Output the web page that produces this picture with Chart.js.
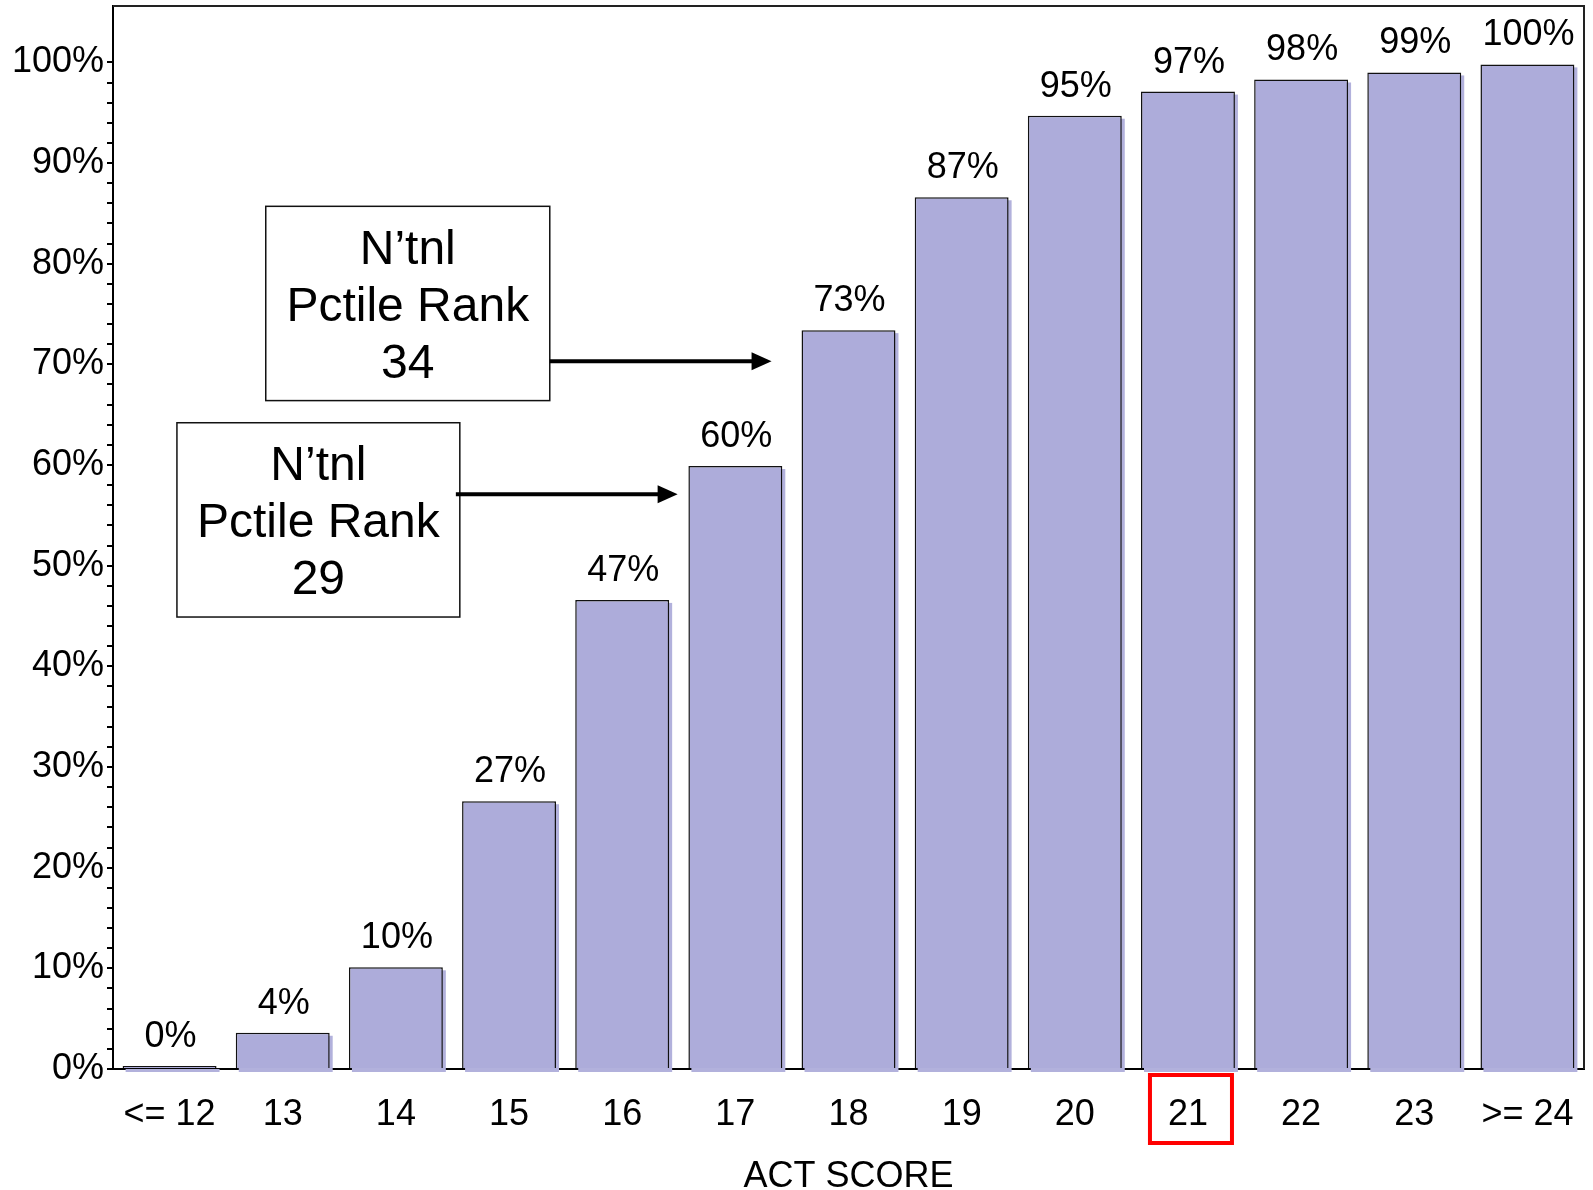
<!DOCTYPE html>
<html>
<head>
<meta charset="utf-8">
<title>ACT Score Percentile</title>
<script src="https://cdn.jsdelivr.net/npm/chart.js@4.4.1/dist/chart.umd.min.js"></script>
<style>
    html, body { margin: 0; padding: 0; background: #fff; }
    #wrap { width: 1593px; height: 1190px; position: relative; }
</style>
</head>
<body>
<div id="wrap"><canvas id="actChart"></canvas></div>
<script>
// Data
const scoreLabels = ['<= 12', '13', '14', '15', '16', '17', '18', '19', '20', '21', '22', '23', '>= 24'];
const cumulativePct = [0.3, 3.6, 10.1, 26.6, 46.6, 59.9, 73.4, 86.6, 94.7, 97.1, 98.3, 99.0, 99.8];
const yTickValues = [0, 10, 20, 30, 40, 50, 60, 70, 80, 90, 100];
const highlightIndex = 9; // score 21

// Callout boxes (category index / percent units)
const callouts = [
    { lines: ['N\u2019tnl', 'Pctile Rank', '34'], x0: 0.85, x1: 3.36, y0: 85.7, y1: 66.4, arrowFrom: 3.36, arrowTo: 5.32, arrowY: 70.3 },
    { lines: ['N\u2019tnl', 'Pctile Rank', '29'], x0: 0.065, x1: 2.565, y0: 64.2, y1: 44.9, arrowFrom: 2.53, arrowTo: 4.49, arrowY: 57.1 }
];

const FONT = '"Liberation Sans", Arial, sans-serif';
const barColor = '#adacda';

// Shadow under each bar, value labels above
const barDecor = {
    id: 'barDecor',
    beforeDatasetsDraw(chart) {
        const ctx = chart.ctx;
        const meta = chart.getDatasetMeta(0);
        ctx.save();
        ctx.fillStyle = '#b2b1dc';
        meta.data.forEach(bar => {
            const w = bar.width;
            ctx.fillRect(bar.x - w / 2 + 3, bar.y + 3, w, bar.base - bar.y + 1);
        });
        ctx.restore();
    },
    afterDatasetsDraw(chart) {
        const ctx = chart.ctx;
        const meta = chart.getDatasetMeta(0);
        ctx.save();
        ctx.fillStyle = '#000';
        ctx.font = '36px ' + FONT;
        ctx.textAlign = 'center';
        ctx.textBaseline = 'alphabetic';
        meta.data.forEach((bar, i) => {
            ctx.fillText(Math.round(cumulativePct[i]) + '%', bar.x + 1, bar.y - 19);
        });
        ctx.restore();
    }
};

// Frame, callouts, highlight box
const extras = {
    id: 'extras',
    afterDraw(chart) {
        const ctx = chart.ctx;
        const area = chart.chartArea;
        const xs = chart.scales.x;
        const ys = chart.scales.y;
        ctx.save();

        // top + right frame
        ctx.strokeStyle = '#222';
        ctx.lineWidth = 2;
        ctx.beginPath();
        ctx.moveTo(area.left, area.top);
        ctx.lineTo(area.right, area.top);
        ctx.lineTo(area.right, area.bottom);
        ctx.stroke();

        // callouts
        callouts.forEach(c => {
            const left = xs.getPixelForValue(c.x0);
            const right = xs.getPixelForValue(c.x1);
            const top = ys.getPixelForValue(c.y0);
            const bottom = ys.getPixelForValue(c.y1);
            ctx.fillStyle = '#fff';
            ctx.fillRect(left, top, right - left, bottom - top);
            ctx.strokeStyle = '#111';
            ctx.lineWidth = 1.5;
            ctx.strokeRect(left, top, right - left, bottom - top);

            ctx.fillStyle = '#000';
            ctx.font = '48px ' + FONT;
            ctx.textAlign = 'center';
            ctx.textBaseline = 'middle';
            const cx = (left + right) / 2;
            const cy = (top + bottom) / 2 + 4;
            c.lines.forEach((t, i) => ctx.fillText(t, cx, cy + (i - 1) * 57));

            // arrow
            const ax0 = xs.getPixelForValue(c.arrowFrom);
            const ax1 = xs.getPixelForValue(c.arrowTo);
            const ay = ys.getPixelForValue(c.arrowY);
            ctx.strokeStyle = '#000';
            ctx.lineWidth = 4;
            ctx.beginPath();
            ctx.moveTo(ax0, ay);
            ctx.lineTo(ax1 - 14, ay);
            ctx.stroke();
            ctx.beginPath();
            ctx.moveTo(ax1, ay);
            ctx.lineTo(ax1 - 20, ay - 9);
            ctx.lineTo(ax1 - 20, ay + 9);
            ctx.closePath();
            ctx.fill();
        });

        // red box around highlighted score
        const hx = xs.getPixelForValue(highlightIndex) + 3;
        ctx.strokeStyle = '#ff0000';
        ctx.lineWidth = 4;
        ctx.strokeRect(hx - 41, area.bottom + 6, 82, 68);

        ctx.restore();
    }
};

const ctx = document.getElementById('actChart').getContext('2d');
const actChart = new Chart(ctx, {
    type: 'bar',
    data: {
        labels: scoreLabels,
        datasets: [{
            data: cumulativePct,
            backgroundColor: barColor,
            borderColor: '#111',
            borderWidth: 1.5,
            barPercentage: 0.83,
            categoryPercentage: 1
        }]
    },
    options: {
        responsive: true,
        maintainAspectRatio: false,
        animation: false,
        layout: { padding: { top: 6, right: 9, left: 0, bottom: 0 } },
        plugins: {
            legend: { display: false },
            tooltip: { enabled: false }
        },
        scales: {
            x: {
                grid: { display: false, drawTicks: false },
                border: { display: true, color: '#000', width: 2 },
                ticks: {
                    color: '#000',
                    font: { family: FONT, size: 36 },
                    padding: 24,
                    maxRotation: 0,
                    autoSkip: false
                },
                title: {
                    display: true,
                    text: 'ACT SCORE',
                    color: '#000',
                    font: { family: FONT, size: 36 },
                    padding: { top: 10, bottom: -9 }
                },
                afterFit(scale) {
                    scale.height = 121;
                    scale.paddingLeft = 0;
                    scale.paddingRight = 0;
                }
            },
            y: {
                min: 0,
                max: 105.6,
                grid: { drawOnChartArea: false, drawTicks: true, tickLength: 6, color: '#000', lineWidth: 2 },
                border: { display: true, color: '#000', width: 2 },
                afterBuildTicks(scale) {
                    const t = [];
                    for (let v = 0; v <= 100; v += 2) t.push({ value: v });
                    scale.ticks = t;
                },
                ticks: {
                    color: '#000',
                    font: { family: FONT, size: 36 },
                    padding: 3,
                    autoSkip: false,
                    callback: v => (yTickValues.includes(v) ? v + '%' : '')
                },
                afterFit(scale) {
                    scale.width = 113;
                    scale.paddingTop = 0;
                    scale.paddingBottom = 0;
                }
            }
        }
    },
    plugins: [barDecor, extras]
});
</script>
</body>
</html>
